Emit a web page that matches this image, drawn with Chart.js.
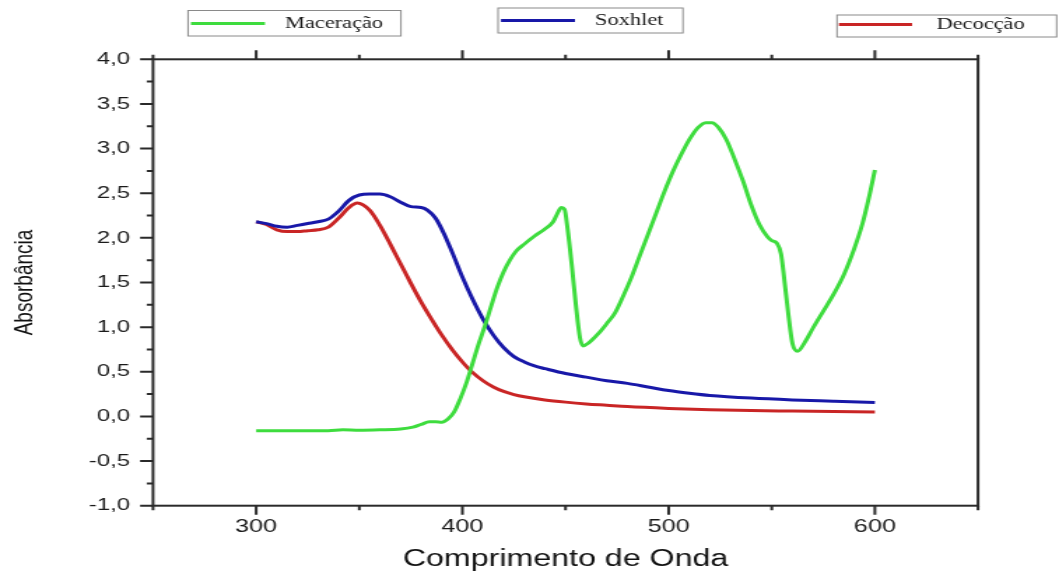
<!DOCTYPE html>
<html>
<head>
<meta charset="utf-8">
<script src="https://cdn.jsdelivr.net/npm/chart.js@4"></script>
<style>
    html, body { margin: 0; padding: 0; background: #fff; }
</style>
</head>
<body>
<!-- the reference is horizontally stretched, so the canvas is drawn narrow and widened -->
<canvas id="chart" width="757" height="576" style="display:block;width:1059px;height:576px;"></canvas>
<script>
const xTicks = [300, 400, 500, 600];
const yTicks = [-1.0, -0.5, 0, 0.5, 1.0, 1.5, 2.0, 2.5, 3.0, 3.5, 4.0];

const seriesNames = ["Maceração", "Soxhlet", "Decocção"];

const maceracaoX = [300, 320, 335, 342, 350, 360, 370, 376, 380, 384, 387, 390, 393, 396, 399, 402, 405, 408, 411, 414,
    417, 420, 423, 426, 430, 435, 440, 444, 446, 448, 449.5, 451, 453, 455, 457, 458.5, 461, 466, 470, 474,
    478, 482, 486, 490, 494, 498, 502, 506, 510, 514, 518, 521, 524, 528, 532, 536, 540, 544, 548, 550,
    552.5, 554.5, 556, 558, 560, 562.5, 566, 570, 575, 580, 585, 590, 594, 597, 600];
const maceracaoY = [-0.16, -0.16, -0.16, -0.15, -0.155, -0.15, -0.14, -0.12, -0.09, -0.06, -0.06, -0.065, -0.03, 0.05, 0.2, 0.38, 0.6, 0.82, 1.02, 1.24,
    1.45, 1.62, 1.75, 1.85, 1.93, 2.02, 2.10, 2.18, 2.27, 2.34, 2.32, 2.1, 1.7, 1.25, 0.88, 0.79, 0.82, 0.93, 1.04, 1.16,
    1.35, 1.56, 1.80, 2.04, 2.28, 2.52, 2.74, 2.93, 3.10, 3.23, 3.29, 3.29, 3.24, 3.10, 2.88, 2.64, 2.37, 2.15, 2.01, 1.97,
    1.94, 1.82, 1.55, 1.15, 0.82, 0.73, 0.83, 0.99, 1.18, 1.37, 1.59, 1.88, 2.16, 2.44, 2.76];

const soxhletX = [300, 305, 310, 315, 320, 325, 330, 335, 340, 345, 350, 355, 360, 365, 370, 375, 380, 383, 387, 391,
    395, 400, 405, 410, 415, 420, 425, 430, 435, 440, 450, 460, 470, 480, 490, 500, 510, 520, 540, 560, 580, 600];
const soxhletY = [2.18, 2.16, 2.13, 2.12, 2.14, 2.16, 2.18, 2.21, 2.30, 2.42, 2.48, 2.49, 2.49, 2.46, 2.40, 2.35, 2.34, 2.31, 2.22, 2.05,
    1.84, 1.56, 1.31, 1.09, 0.91, 0.77, 0.67, 0.61, 0.565, 0.535, 0.48, 0.44, 0.40, 0.37, 0.33, 0.29, 0.26, 0.235, 0.205, 0.185, 0.17, 0.155];

const decoccaoX = [300, 305, 310, 315, 320, 325, 330, 335, 340, 345, 349, 355, 360, 365, 370, 375, 380, 385, 390,
    395, 400, 405, 410, 415, 420, 425, 430, 440, 450, 460, 470, 480, 500, 520, 540, 560, 580, 600];
const decoccaoY = [2.18, 2.15, 2.09, 2.07, 2.07, 2.08, 2.09, 2.12, 2.22, 2.34, 2.39, 2.31, 2.14, 1.93, 1.71, 1.49, 1.28, 1.09, 0.91,
    0.75, 0.61, 0.49, 0.40, 0.33, 0.28, 0.245, 0.22, 0.185, 0.16, 0.14, 0.125, 0.11, 0.09, 0.075, 0.065, 0.06, 0.055, 0.05];

const colors = ["#3edc3e", "#1818a8", "#c92525"];
const sansFont = "'Liberation Sans', Arial, sans-serif";
const serifFont = "'Liberation Serif', 'Times New Roman', serif";

// separate legend boxes at the top, in canvas pixels
const legendBoxes = [
    { box: [134.4, 10.5, 152.2, 25.5], line: [136.5, 189.4, 23.5], textX: 203.7, textY: 24 },
    { box: [356.0, 8.0, 132.2, 25.0], line: [358.1, 411.0, 20.5], textX: 425.3, textY: 20.5 },
    { box: [598.3, 15.0, 157.0, 22.0], line: [599.7, 652.0, 24.5], textX: 669.4, textY: 25 }
];

const fmtComma = (v) => (Math.abs(v) < 1e-9 ? 0 : v).toFixed(1).replace(".", ",");

const makeSet = (label, xs, ys, color) => ({
    label,
    data: xs.map((x, i) => ({ x, y: ys[i] })),
    borderColor: color,
    backgroundColor: color,
    borderWidth: 3,
    pointRadius: 0,
    fill: false,
    cubicInterpolationMode: "monotone"
});

const framePlugin = {
    id: "frame",
    afterDraw(chart) {
        const { ctx, chartArea: a, scales } = chart;
        const x = scales.x;
        const y = scales.y;
        ctx.save();
        ctx.strokeStyle = "#2a2a2a";
        ctx.lineWidth = 2;
        ctx.strokeRect(a.left, a.top, a.right - a.left, a.bottom - a.top);

        const xStep = xTicks[1] - xTicks[0];
        const xMinor = [xTicks[0] - xStep / 2];
        xTicks.forEach(v => xMinor.push(v + xStep / 2));
        const yMinor = [];
        for (let i = 0; i < yTicks.length - 1; i++) {
            yMinor.push((yTicks[i] + yTicks[i + 1]) / 2);
        }

        ctx.beginPath();
        xTicks.forEach(v => {
            const px = x.getPixelForValue(v);
            ctx.moveTo(px, a.bottom); ctx.lineTo(px, a.bottom + 9);
            ctx.moveTo(px, a.top); ctx.lineTo(px, a.top - 9);
        });
        xMinor.forEach(v => {
            const px = x.getPixelForValue(v);
            ctx.moveTo(px, a.bottom); ctx.lineTo(px, a.bottom + 4.5);
            ctx.moveTo(px, a.top); ctx.lineTo(px, a.top - 4.5);
        });
        yTicks.forEach(v => {
            const py = y.getPixelForValue(v);
            ctx.moveTo(a.left, py); ctx.lineTo(a.left - 9.3, py);
        });
        yMinor.forEach(v => {
            const py = y.getPixelForValue(v);
            ctx.moveTo(a.left, py); ctx.lineTo(a.left - 4.5, py);
        });
        ctx.stroke();
        ctx.restore();
    }
};

const boxLegendPlugin = {
    id: "boxLegend",
    afterDraw(chart) {
        const { ctx } = chart;
        ctx.save();
        legendBoxes.forEach((item, i) => {
            const [bx, by, bw, bh] = item.box;
            ctx.fillStyle = "#fff";
            ctx.fillRect(bx, by, bw, bh);
            ctx.strokeStyle = "#8a8a8a";
            ctx.lineWidth = 1;
            ctx.strokeRect(bx, by, bw, bh);

            const [x1, x2, ly] = item.line;
            ctx.strokeStyle = colors[i];
            ctx.lineWidth = 2.8;
            ctx.beginPath();
            ctx.moveTo(x1, ly);
            ctx.lineTo(x2, ly);
            ctx.stroke();

            ctx.fillStyle = "#1a1a1a";
            ctx.font = `16px ${serifFont}`;
            ctx.textAlign = "left";
            ctx.textBaseline = "middle";
            ctx.fillText(seriesNames[i], item.textX, item.textY);
        });
        ctx.restore();
    }
};

const canvas = document.getElementById("chart");
new Chart(canvas, {
    type: "line",
    data: {
        datasets: [
            makeSet(seriesNames[0], maceracaoX, maceracaoY, colors[0]),
            makeSet(seriesNames[1], soxhletX, soxhletY, colors[1]),
            makeSet(seriesNames[2], decoccaoX, decoccaoY, colors[2])
        ]
    },
    options: {
        responsive: false,
        devicePixelRatio: 1,
        animation: false,
        layout: { padding: { left: 0, top: 59.3, right: 57.9, bottom: 0 } },
        plugins: {
            legend: { display: false },
            tooltip: { enabled: false }
        },
        scales: {
            x: {
                type: "linear",
                min: 250,
                max: 650,
                afterBuildTicks: (s) => { s.ticks = xTicks.map(v => ({ value: v })); },
                afterFit: (s) => { s.height = 70.3; },
                grid: { display: false, drawTicks: false },
                border: { display: false },
                ticks: {
                    padding: 11,
                    color: "#1a1a1a",
                    font: { family: sansFont, size: 18 },
                    callback: (v) => String(v)
                },
                title: {
                    display: true,
                    text: "Comprimento de Onda",
                    color: "#111",
                    font: { family: sansFont, size: 23 },
                    padding: { top: 0, bottom: 2.2 }
                }
            },
            y: {
                type: "linear",
                min: -1,
                max: 4,
                afterBuildTicks: (s) => { s.ticks = yTicks.map(v => ({ value: v })); },
                afterFit: (s) => { s.width = 109.4; },
                grid: { display: false, drawTicks: false },
                border: { display: false },
                ticks: {
                    padding: 16.5,
                    color: "#1a1a1a",
                    font: { family: sansFont, size: 17 },
                    callback: (v) => fmtComma(v)
                },
                title: {
                    display: true,
                    text: "Absorbância",
                    color: "#111",
                    font: { family: sansFont, size: 19 },
                    padding: { top: 6.6, bottom: 0 }
                }
            }
        }
    },
    plugins: [framePlugin, boxLegendPlugin]
});
canvas.style.width = "1059px";
canvas.style.height = "576px";
</script>
</body>
</html>
